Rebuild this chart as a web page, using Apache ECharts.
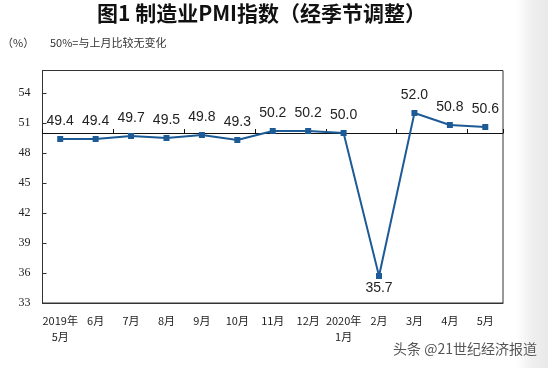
<!DOCTYPE html>
<html>
<head>
<meta charset="utf-8">
<script src="https://cdn.jsdelivr.net/npm/echarts@6/dist/echarts.min.js"></script>
<style>
html,body{margin:0;padding:0;background:#fff;}
#c{width:548px;height:368px;}
</style>
</head>
<body>
<div id="c"></div>
<script>
var titleText = '图1 制造业PMI指数（经季节调整）';
var unitText = '（%）';
var noteText = '50%=与上月比较无变化';
var sourceText = '头条 @21世纪经济报道';
var categories = ['2019年\n5月','6月','7月','8月','9月','10月','11月','12月','2020年\n1月','2月','3月','4月','5月'];
var pmiValues = [49.4, 49.4, 49.7, 49.5, 49.8, 49.3, 50.2, 50.2, 50.0, 35.7, 52.0, 50.8, 50.6];
var yMin = 33, yMax = 56.25, yStep = 3, baseLine = 50;

var gridTop = 70.5, gridBottom = 65, gridLeft = 42.5, gridRight = 45;
var gridH = 368 - gridTop - gridBottom;
var baseOffset = -((baseLine - yMin) / (yMax - yMin)) * gridH;

var chart = echarts.init(document.getElementById('c'));
chart.setOption({
  animation: false,
  backgroundColor: '#fff',
  graphic: [
    {type:'rect', left: 516, top: 0, shape:{width:32, height:368}, silent:true, z:-10,
     style:{fill: new echarts.graphic.LinearGradient(0,0,1,0,[{offset:0,color:'#ffffff'},{offset:0.5,color:'#efefef'},{offset:1,color:'#e9e9e9'}])}},
    {type:'text', left: 97, top: 3, style:{text:titleText, font:'bold 21px "Noto Sans CJK SC"', fill:'#111'}},
    {type:'text', left: 2, top: 37, style:{text:unitText, font:'11px "Noto Sans CJK SC"', fill:'#333'}},
    {type:'text', left: 50, top: 37, style:{text:noteText, font:'11px "Noto Sans CJK SC"', fill:'#333'}},
    {type:'text', left: 393, top: 342, style:{text:sourceText, font:'14px "Noto Sans CJK SC"', fill:'#555', textShadowColor:'#fff', textShadowBlur:2}}
  ],
  grid: {top: gridTop, bottom: gridBottom, left: gridLeft, right: gridRight, show: true, borderColor:'#333', borderWidth:1, backgroundColor:'transparent'},
  xAxis: [
    {type:'category', data: categories, boundaryGap:true, position:'bottom',
     axisLine:{show:true, lineStyle:{color:'#333', width:1}},
     axisTick:{show:false},
     axisLabel:{interval:0, margin:10, fontSize:11, lineHeight:16, color:'#222', fontFamily:'"Noto Sans CJK SC"'},
     splitLine:{show:false}},
    {type:'category', data: categories, boundaryGap:true, position:'bottom', offset: baseOffset,
     axisLine:{show:true, onZero:false, lineStyle:{color:'#111', width:1}},
     axisTick:{show:true, inside:true, length:4, lineStyle:{color:'#111'}},
     axisLabel:{show:false}, splitLine:{show:false}}
  ],
  yAxis: {type:'value', min:yMin, max:yMax, interval:yStep,
    axisLine:{show:true, lineStyle:{color:'#333', width:1}},
    axisTick:{show:true, inside:true, length:4, lineStyle:{color:'#333'}},
    axisLabel:{showMaxLabel:false, margin:12, fontSize:12, color:'#222', fontFamily:'"Liberation Serif"'},
    splitLine:{show:false}},
  series: [{
    type:'line', data: pmiValues, xAxisIndex:0,
    symbol:'rect', symbolSize:6,
    lineStyle:{color:'#1d5b96', width:2},
    itemStyle:{color:'#1d5b96'},
    label:{show:true, position:'top', distance:8, fontSize:14, color:'#222', fontFamily:'"Liberation Sans"',
      formatter:function(p){return p.value.toFixed(1);}},
    labelLayout:{hideOverlap:false}
  }]
});
var opt = chart.getOption();
var s = opt.series[0];
s.data = pmiValues.map(function(v){
  return v < 40 ? {value:v, label:{position:'bottom', distance:2}} : v;
});
chart.setOption({series:[s]});
</script>
</body>
</html>
